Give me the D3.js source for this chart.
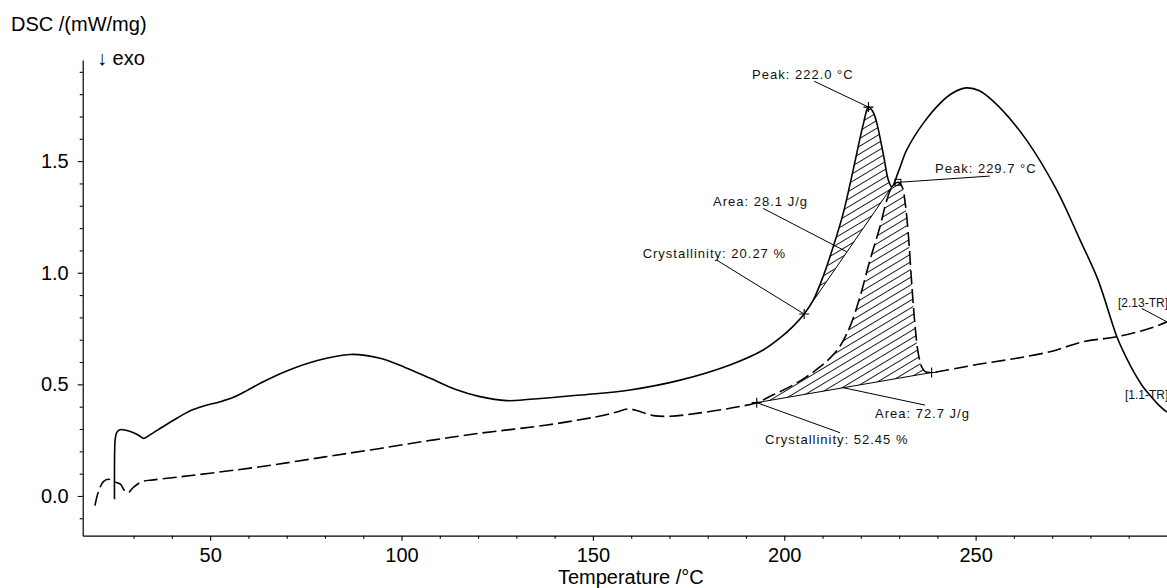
<!DOCTYPE html>
<html><head><meta charset="utf-8">
<script src="https://cdn.jsdelivr.net/npm/d3@7"></script>
<style>
body{margin:0;background:#fff;}
svg{display:block;font-family:Arial,"Liberation Sans",Helvetica,sans-serif;}
</style>
</head><body>
<svg id="chart" width="1167" height="588"></svg>
<script>
// ---------------- data ----------------
// curve 1 (solid): [temperature °C, DSC mW/mg]
const solidCurve = [[25.0,-0.015],[25.0,0.10],[25.05,0.20],[25.2,0.255],[25.6,0.285],[26.5,0.297],[28,0.294],[30,0.283],[31.5,0.27],[32.6,0.258],[33.8,0.268],[35.3,0.285],[36.9,0.302],[41.3,0.348],[44.8,0.382],[48.3,0.403],[52.6,0.422],[56.1,0.442],[59.6,0.472],[63.1,0.505],[70,0.56],[78,0.607],[86.6,0.634],[94.4,0.617],[100.9,0.576],[107.5,0.527],[114,0.478],[120.5,0.445],[127.5,0.427],[133.6,0.433],[146.7,0.452],[159.7,0.475],[172.8,0.519],[185.8,0.587],[194.5,0.654],[198.9,0.708],[202.3,0.76],[205.2,0.815],[207.6,0.878],[210.3,0.99],[212.8,1.117],[215.4,1.266],[218,1.46],[220.7,1.669],[222.0,1.742],[223.2,1.72],[224.2,1.669],[226,1.52],[227.2,1.415],[228.1,1.385],[229.8,1.452],[232,1.55],[236.3,1.669],[240.7,1.759],[244,1.805],[247.5,1.828],[251,1.815],[256,1.745],[263.3,1.594],[271.2,1.37],[277.3,1.146],[282,0.967],[286.9,0.713],[289.5,0.615],[291.5,0.55],[293.5,0.495],[295.6,0.45],[297.8,0.408],[300,0.375]];
// curve 2 (dashed)
const dashedCurve = [[19.9,-0.043],[20.8,0.019],[22.1,0.064],[23.4,0.075],[25.2,0.062],[26.6,0.052],[27.6,0.025],[28.6,0.015],[30,0.04],[32.2,0.064],[35.2,0.072],[41.3,0.084],[50,0.102],[63.1,0.131],[80,0.175],[94.4,0.213],[108,0.25],[120.5,0.281],[138,0.318],[151,0.355],[156,0.375],[159.3,0.39],[162.3,0.378],[165.8,0.36],[170.2,0.357],[177.1,0.37],[185.8,0.393],[192.8,0.418],[197,0.452],[201.5,0.49],[205.5,0.53],[209.3,0.578],[212.2,0.622],[214.6,0.672],[217.2,0.76],[219.8,0.893],[222.4,1.057],[225,1.206],[226.8,1.326],[228.2,1.385],[229.7,1.405],[230.8,1.385],[231.6,1.311],[232.4,1.176],[233.3,0.952],[234.2,0.758],[235,0.64],[235.9,0.579],[236.8,0.557],[238.5,0.553],[242.5,0.564],[251.1,0.591],[260,0.615],[269.4,0.646],[278.1,0.691],[286.9,0.713],[295.6,0.751],[300,0.78]];

// integration limits (temperatures) for the two hatched peaks
const area1Limits = [205.2, 228.1];   // on solid curve
const area2Limits = [192.8, 238.5];   // on dashed curve

// axis ticks
const xMajorTicks = [50,100,150,200,250];
const xMinorTicks = [30,40,60,70,80,90,110,120,130,140,160,170,180,190,210,220,230,240,260,270,280,290];
const yMajorTicks = [0,0.5,1.0,1.5];
const yTickLabels = ["0.0","0.5","1.0","1.5"];
const yMinorTicks = [-0.1,0.1,0.2,0.3,0.4,0.6,0.7,0.8,0.9,1.1,1.2,1.3,1.4,1.6,1.7,1.8,1.9];

// annotations: text, text anchor (T,v), leader start (T,v), leader end (T,v)
const annTexts  = ["Peak: 222.0 °C","Area: 28.1 J/g","Crystallinity: 20.27 %","Peak: 229.7 °C","Area: 72.7 J/g","Crystallinity: 52.45 %"];
const annTextAt = [[191.6,1.867],[181.4,1.299],[163.0,1.066],[239.4,1.449],[223.7,0.351],[195.0,0.231]];
const annFrom   = [[207.8,1.858],[194.5,1.288],[182.3,1.057],[253.7,1.433],[236.8,0.407],[214.6,0.283]];
const annTo     = [[222.0,1.742],[216.3,1.094],[205.2,0.815],[229.7,1.405],[215.4,0.485],[192.8,0.418]];
const crossMarks = [[222.0,1.742],[205.2,0.815],[192.8,0.418],[238.5,0.553]];
const squareMarks = [[229.7,1.405]];

const curveLabels = ["[2.13-TR]","[1.1-TR]"];
const curveLabelAt = [[287.2,0.846],[289.0,0.434]];
const curveLabelFrom = [[293.4,0.84]];
const curveLabelTo = [[300,0.78]];

// ---------------- drawing ----------------
const svg = d3.select("#chart");
const x = d3.scaleLinear().domain([16.7,300]).range([82.7,1167]);
const y = d3.scaleLinear().domain([-0.178,1.953]).range([535.7,60]);

const defs = svg.append("defs");
defs.append("pattern").attr("id","hatch").attr("patternUnits","userSpaceOnUse")
  .attr("width",30).attr("height",6.6).attr("patternTransform","rotate(-31)")
  .append("line").attr("x1",0).attr("y1",0.5).attr("x2",30).attr("y2",0.5)
  .attr("stroke","#000").attr("stroke-width",0.9);

const line = d3.line().x(d=>x(d[0])).y(d=>y(d[1])).curve(d3.curveCatmullRom.alpha(0.5));

function segment(curve, lim){ return curve.filter(d=>d[0]>=lim[0]-1e-9 && d[0]<=lim[1]+1e-9); }

// hatched areas
const seg1 = segment(solidCurve, area1Limits);
const seg2 = segment(dashedCurve, area2Limits);
[seg1, seg2].forEach(s=>{
  svg.append("path").attr("d", line(s)+"Z").attr("fill","url(#hatch)").attr("stroke","none");
  svg.append("line").attr("x1",x(s[0][0])).attr("y1",y(s[0][1]))
     .attr("x2",x(s[s.length-1][0])).attr("y2",y(s[s.length-1][1]))
     .attr("stroke","#000").attr("stroke-width",1);
});

// axes
const gx = svg.append("g").attr("transform",`translate(0,${y.range()[0]})`);
gx.call(d3.axisBottom(x).tickValues(xMajorTicks).tickSize(5).tickSizeOuter(0).tickPadding(7).tickFormat(d3.format("d")));
const gxm = svg.append("g").attr("transform",`translate(0,${y.range()[0]})`);
gxm.call(d3.axisBottom(x).tickValues(xMinorTicks).tickSize(3).tickFormat(""));
gxm.select(".domain").remove();

const gy = svg.append("g").attr("transform",`translate(${x.range()[0]},0)`);
gy.call(d3.axisLeft(y).tickValues(yMajorTicks).tickSize(5).tickSizeOuter(0).tickPadding(9).tickFormat((d,i)=>yTickLabels[i]));
const gym = svg.append("g").attr("transform",`translate(${x.range()[0]},0)`);
gym.call(d3.axisLeft(y).tickValues(yMinorTicks).tickSize(3).tickFormat(""));
gym.select(".domain").remove();

svg.selectAll(".domain").attr("stroke","#000").attr("stroke-width",1.2);
svg.selectAll(".tick line").attr("stroke","#000").attr("stroke-width",1.1);
svg.selectAll(".tick text").attr("font-size",20).attr("font-family","Arial, 'Liberation Sans', sans-serif").attr("fill","#000");

// curves
svg.append("path").attr("d",line(dashedCurve)).attr("fill","none").attr("stroke","#000")
  .attr("stroke-width",1.6).attr("stroke-dasharray","14,5");
svg.append("path").attr("d",line(solidCurve)).attr("fill","none").attr("stroke","#000")
  .attr("stroke-width",1.6);

// markers
crossMarks.forEach(p=>{
  const cx=x(p[0]), cy=y(p[1]);
  svg.append("path").attr("d",`M${cx-5},${cy}H${cx+5}M${cx},${cy-5}V${cy+5}`).attr("stroke","#000").attr("stroke-width",1.1);
});
squareMarks.forEach(p=>{
  svg.append("rect").attr("x",x(p[0])-3).attr("y",y(p[1])-3).attr("width",6).attr("height",6)
    .attr("fill","none").attr("stroke","#000").attr("stroke-width",1);
});

// annotation leaders and text
annTexts.forEach((t,i)=>{
  svg.append("line").attr("x1",x(annFrom[i][0])).attr("y1",y(annFrom[i][1]))
    .attr("x2",x(annTo[i][0])).attr("y2",y(annTo[i][1])).attr("stroke","#000").attr("stroke-width",1);
  svg.append("text").attr("x",x(annTextAt[i][0])).attr("y",y(annTextAt[i][1]))
    .attr("font-size",13).attr("letter-spacing","1px").attr("fill","#111").text(t);
});
curveLabelFrom.forEach((p,i)=>{
  svg.append("line").attr("x1",x(p[0])).attr("y1",y(p[1])).attr("x2",x(curveLabelTo[i][0])).attr("y2",y(curveLabelTo[i][1]))
    .attr("stroke","#000").attr("stroke-width",1);
});
curveLabels.forEach((t,i)=>{
  svg.append("text").attr("x",x(curveLabelAt[i][0])).attr("y",y(curveLabelAt[i][1]))
    .attr("font-size",12).attr("fill","#111").text(t);
});

// titles
svg.append("text").attr("x",11).attr("y",31).attr("font-size",20).attr("fill","#000").text("DSC /(mW/mg)");
svg.append("text").attr("x",97).attr("y",65).attr("font-size",20).attr("fill","#000").text("↓ exo");
svg.append("text").attr("x",(x.range()[0]+x.range()[1])/2+6).attr("y",584).attr("text-anchor","middle")
  .attr("font-size",20).attr("fill","#000").text("Temperature /°C");
</script>
</body></html>
